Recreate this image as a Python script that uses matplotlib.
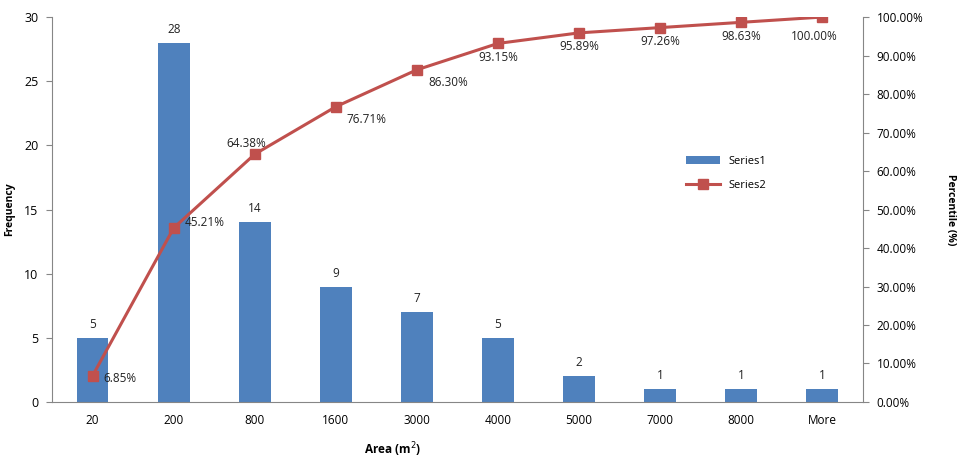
import matplotlib.pyplot as plt
import numpy as np
from matplotlib.ticker import FixedLocator, NullLocator

plt.rcParams['font.family'] = ['Open Sans', 'DejaVu Sans']

bins = ['20', '200', '800', '1600', '3000', '4000', '5000', '7000', '8000', 'More']
freq = [5, 28, 14, 9, 7, 5, 2, 1, 1, 1]
cum_pct = [6.85, 45.21, 64.38, 76.71, 86.30, 93.15, 95.89, 97.26, 98.63, 100.00]

# label offsets in points for the percentage labels
pct_offsets = [(8, -2), (8, 4), (-6, 8), (8, -9), (8, -9),
               (0, -10), (0, -10), (0, -10), (0, -10), (-6, -14)]

blue = '#4F81BD'
red = '#C0504D'
grey = '#868686'

fig = plt.figure(figsize=(9.65, 4.61), dpi=100)
ax = fig.add_axes([0.054, 0.128, 0.840, 0.835])
x = np.arange(len(bins))

ax.bar(x, freq, width=0.39, color=blue, label='Series1', zorder=2)
for xi, v in zip(x, freq):
    ax.annotate(str(v), (xi, v), xytext=(0, 5), textcoords='offset points',
                ha='center', va='bottom', fontsize=8.5, color='#222222')

ax.set_xlim(-0.5, len(bins) - 0.5)
ax.set_ylim(0, 30)
ax.set_yticks(range(0, 31, 5))
ax.set_xticks(x)
ax.set_xticklabels(bins)
ax.xaxis.set_minor_locator(FixedLocator(np.arange(-0.5, len(bins), 1)))
ax.tick_params(axis='x', which='major', length=0, pad=9, labelsize=8.5)
ax.tick_params(axis='x', which='minor', length=4, color=grey, direction='out')
ax.tick_params(axis='y', length=4, color=grey, labelsize=9, pad=6)
for s in ['top', 'right']:
    ax.spines[s].set_visible(False)
for s in ['left', 'bottom']:
    ax.spines[s].set_color(grey)
ax.set_xlabel('Area (m$^2$)', fontsize=8.5, fontweight='bold')
ax.xaxis.set_label_coords(0.42, -0.10)
ax.set_ylabel('Frequency', fontsize=7.5, fontweight='bold')
ax.yaxis.set_label_coords(-0.046, 0.5)

ax2 = ax.twinx()
ax2.plot(x, cum_pct, color=red, lw=2.2, marker='s', markersize=6.5,
         label='Series2', zorder=3)
for xi, v, off in zip(x, cum_pct, pct_offsets):
    ha = 'left' if off[0] > 0 else 'center'
    ax2.annotate(f'{v:.2f}%', (xi, v), xytext=off, textcoords='offset points',
                 ha=ha, va='center', fontsize=8.5, color='#222222')
ax2.set_ylim(0, 100)
ax2.set_yticks(range(0, 101, 10))
ax2.set_yticklabels([f'{t:.2f}%' for t in range(0, 101, 10)])
ax2.tick_params(axis='y', length=4, color=grey, labelsize=8.5, pad=6)
ax2.xaxis.set_minor_locator(NullLocator())
for s in ['top', 'left', 'bottom']:
    ax2.spines[s].set_visible(False)
ax2.spines['right'].set_color(grey)
ax2.set_ylabel('Percentile (%)', fontsize=7.5, fontweight='bold', rotation=-90)
ax2.yaxis.set_label_coords(1.115, 0.5)

h1, l1 = ax.get_legend_handles_labels()
h2, l2 = ax2.get_legend_handles_labels()
ax2.legend(h1 + h2, l1 + l2, loc='upper left', bbox_to_anchor=(0.77, 0.665),
           frameon=False, fontsize=8, handlelength=3, labelspacing=1.2)

fig.savefig('out.png', dpi=100)
